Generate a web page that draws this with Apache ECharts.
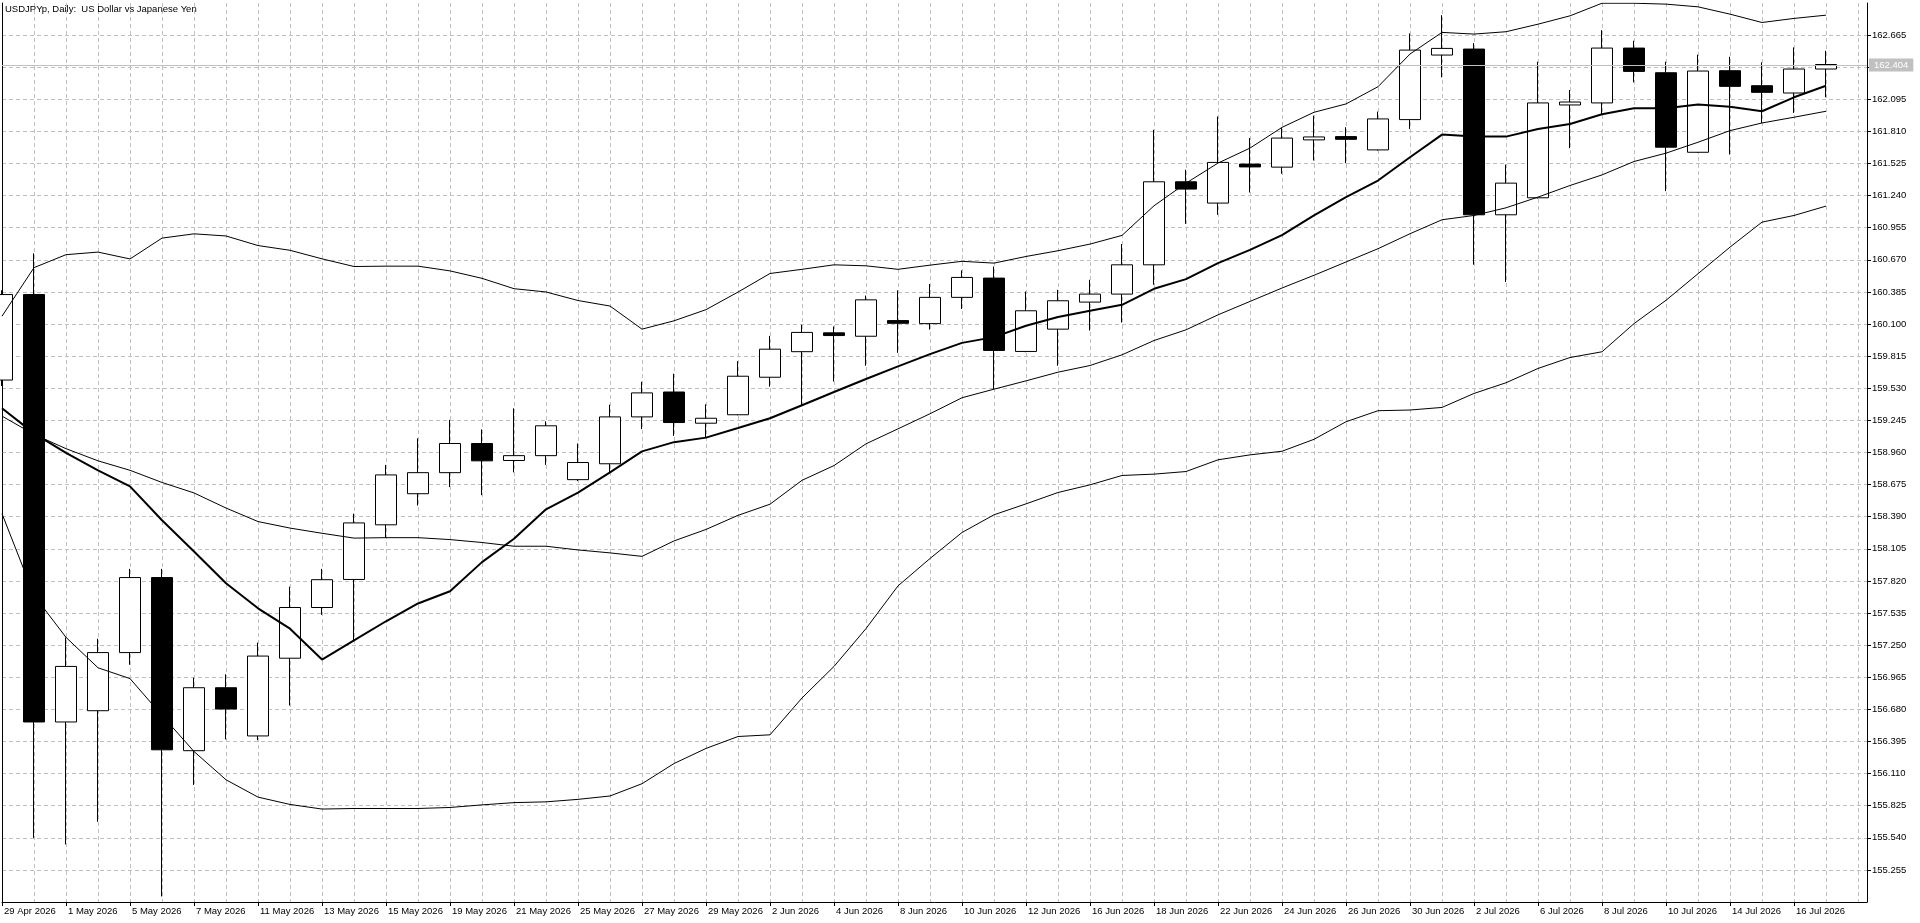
<!DOCTYPE html>
<html><head><meta charset="utf-8">
<script src="https://cdn.jsdelivr.net/npm/echarts@6/dist/echarts.min.js"></script>
<style>html,body{margin:0;padding:0;background:#fff;}#c{width:1920px;height:923px;}</style>
</head><body><div id="c"></div>
<script>
// ---- data ----
const dates = ['29 Apr 2026','30 Apr 2026','1 May 2026','4 May 2026','5 May 2026','6 May 2026','7 May 2026','8 May 2026',
 '11 May 2026','12 May 2026','13 May 2026','14 May 2026','15 May 2026','18 May 2026','19 May 2026','20 May 2026','21 May 2026','22 May 2026',
 '25 May 2026','26 May 2026','27 May 2026','28 May 2026','29 May 2026','1 Jun 2026','2 Jun 2026','3 Jun 2026','4 Jun 2026','5 Jun 2026',
 '8 Jun 2026','9 Jun 2026','10 Jun 2026','11 Jun 2026','12 Jun 2026','15 Jun 2026','16 Jun 2026','17 Jun 2026','18 Jun 2026','19 Jun 2026',
 '22 Jun 2026','23 Jun 2026','24 Jun 2026','25 Jun 2026','26 Jun 2026','29 Jun 2026','30 Jun 2026','1 Jul 2026','2 Jul 2026','3 Jul 2026',
 '6 Jul 2026','7 Jul 2026','8 Jul 2026','9 Jul 2026','10 Jul 2026','13 Jul 2026','14 Jul 2026','15 Jul 2026','16 Jul 2026','17 Jul 2026'];
const open = [159.603,160.362,156.568,156.668,157.184,157.850,156.313,156.872,156.444,157.134,
 157.584,157.833,158.318,158.594,158.781,159.040,158.889,158.932,158.719,158.860,
 159.276,159.497,159.220,159.295,159.628,159.855,160.022,159.992,160.131,160.104,
 160.337,160.508,159.857,160.055,160.295,160.366,160.626,161.363,161.174,161.520,
 161.493,161.735,161.764,161.646,161.915,162.488,162.541,161.070,161.221,162.045,
 162.063,162.550,162.331,161.625,162.349,162.216,162.151,162.364];
const high = [160.400,160.728,157.319,157.307,157.927,157.927,156.961,156.991,157.272,157.769,
 157.927,158.417,158.850,159.086,159.250,159.165,159.352,159.237,159.040,159.384,
 159.588,159.659,159.388,159.771,159.995,160.094,160.079,160.353,160.399,160.455,
 160.577,160.611,160.389,160.404,160.493,160.810,161.825,161.470,161.943,161.751,
 161.840,161.950,161.847,161.986,162.680,162.842,162.594,161.516,162.429,162.178,
 162.709,162.615,162.429,162.491,162.473,162.423,162.556,162.526];
const low = [159.550,155.539,155.481,155.682,157.076,155.019,156.009,156.413,156.406,156.714,
 157.519,157.292,158.204,158.489,158.653,158.581,158.784,158.850,158.706,158.784,
 159.168,159.108,159.093,159.290,159.544,159.379,159.590,159.730,159.845,160.051,
 160.234,159.522,159.850,159.730,160.043,160.114,160.449,160.990,161.070,161.268,
 161.434,161.552,161.528,161.640,161.832,162.290,160.627,160.474,161.215,161.661,
 161.965,162.246,161.280,161.620,161.605,161.885,161.974,162.113];
const close = [160.362,156.568,157.061,157.184,157.850,156.321,156.872,156.683,157.153,157.584,
 157.831,158.335,158.761,158.781,159.040,158.886,158.932,159.197,158.871,159.276,
 159.489,159.226,159.264,159.637,159.877,160.026,159.998,160.315,160.107,160.337,
 160.514,159.866,160.218,160.307,160.366,160.626,161.363,161.298,161.535,161.495,
 161.751,161.761,161.740,161.921,162.532,162.547,161.070,161.351,162.063,162.071,
 162.550,162.343,161.670,162.346,162.210,162.157,162.364,162.404];
const bbUpper = [160.170,160.601,160.716,160.739,160.678,160.863,160.901,160.882,160.797,160.755,
 160.679,160.611,160.614,160.614,160.572,160.506,160.414,160.385,160.309,160.260,
 160.055,160.129,160.228,160.384,160.549,160.586,160.626,160.617,160.586,160.623,
 160.657,160.641,160.700,160.751,160.810,160.887,161.150,161.351,161.529,161.662,
 161.846,161.980,162.054,162.207,162.497,162.689,162.674,162.695,162.762,162.836,
 162.948,162.948,162.940,162.916,162.851,162.777,162.813,162.842];
const bbMiddle = [159.283,159.121,158.994,158.886,158.802,158.694,158.601,158.467,158.347,158.289,
 158.243,158.200,158.204,158.204,158.187,158.161,158.128,158.128,158.095,158.069,
 158.038,158.175,158.277,158.402,158.501,158.713,158.844,159.037,159.170,159.304,
 159.446,159.522,159.596,159.673,159.732,159.827,159.954,160.049,160.182,160.301,
 160.420,160.533,160.651,160.769,160.902,161.026,161.064,161.132,161.227,161.330,
 161.424,161.543,161.617,161.714,161.817,161.885,161.936,161.989];
const bbLower = [158.417,157.692,157.319,157.049,156.953,156.626,156.306,156.055,155.901,155.836,
 155.795,155.800,155.800,155.800,155.809,155.832,155.852,155.859,155.881,155.911,
 156.020,156.199,156.333,156.439,156.454,156.781,157.061,157.397,157.776,158.019,
 158.250,158.407,158.504,158.605,158.673,158.756,158.768,158.791,158.895,158.939,
 158.971,159.077,159.233,159.331,159.337,159.360,159.484,159.579,159.706,159.803,
 159.854,160.104,160.311,160.547,160.783,161.005,161.064,161.147];
const maLine = [159.353,159.130,158.956,158.802,158.659,158.359,158.081,157.800,157.577,157.396,
 157.122,157.292,157.462,157.620,157.728,157.987,158.194,158.456,158.604,158.784,
 158.970,159.052,159.092,159.177,159.264,159.379,159.497,159.612,159.724,159.833,
 159.933,159.984,160.085,160.162,160.218,160.271,160.413,160.499,160.641,160.759,
 160.890,161.064,161.227,161.374,161.581,161.782,161.764,161.764,161.832,161.876,
 161.962,162.015,162.015,162.048,162.030,161.989,162.113,162.216];
const lastPrice = 162.404;
const yMin = 154.970, yMax = 162.950, yStep = 0.285;   // price scale ticks
const title = 'USDJPYp, Daily:  US Dollar vs Japanese Yen';

// ---- chart ----
const FONT = "'Liberation Sans', Arial, sans-serif";
const GRID = '#c0c0c0';
const xMax = 1865 / 32;           // visible bar slots incl. right shift
const labelIdx = dates.map((d, i) => i).filter(i => i % 2 === 0);
const candle = dates.map((d, i) => [i, open[i], close[i], low[i], high[i]]);
const pts = arr => arr.map((v, i) => [i, v]);
const lineSeries = (arr, w) => ({
  type: 'line', data: pts(arr), symbol: 'none', showSymbol: false, z: 3, silent: true,
  lineStyle: { color: '#000', width: w }, emphasis: { disabled: true }
});

const chart = echarts.init(document.getElementById('c'), null, { renderer: 'canvas' });
chart.setOption({
  animation: false,
  backgroundColor: '#fff',
  title: { text: title, left: 5, top: 4, padding: 0,
    textStyle: { fontFamily: FONT, fontSize: 9.5, fontWeight: 'normal', color: '#000' } },
  grid: { left: 2, right: 53, top: 3, bottom: 21 },
  xAxis: [
    { type: 'value', position: 'bottom', min: 0, max: xMax, interval: 1,
      axisLine: { show: true, onZero: false, lineStyle: { color: '#000', width: 1 } },
      axisTick: { show: false }, axisLabel: { show: false },
      splitLine: { show: true, showMinLine: false, showMaxLine: false,
        lineStyle: { color: GRID, type: [4, 3], width: 1 } } },
    { type: 'value', position: 'bottom', min: 0, max: xMax, interval: 2,
      axisLine: { show: false, onZero: false },
      axisTick: { show: true, length: 4, customValues: labelIdx, lineStyle: { color: '#000' } },
      axisLabel: { show: true, customValues: labelIdx, align: 'left', margin: 4, padding: [0, 0, 0, 2],
        fontFamily: FONT, fontSize: 9.5, color: '#000',
        formatter: v => (Number.isInteger(v) && dates[v]) ? dates[v] : '' },
      splitLine: { show: false } }
  ],
  yAxis: [
    { type: 'value', position: 'right', min: yMin, max: yMax, interval: yStep,
      axisLine: { show: true, onZero: false, lineStyle: { color: '#000' } },
      axisTick: { show: true, length: 4, lineStyle: { color: '#000' } },
      axisLabel: { margin: 5, showMinLabel: false, showMaxLabel: false,
        fontFamily: FONT, fontSize: 9.5, color: '#000', formatter: v => v.toFixed(3) },
      splitLine: { show: true, showMinLine: false, showMaxLine: false,
        lineStyle: { color: GRID, type: [4, 3], width: 1 } } },
    { type: 'value', position: 'left', min: yMin, max: yMax,
      axisLine: { show: true, onZero: false, lineStyle: { color: '#000' } },
      axisTick: { show: false }, axisLabel: { show: false }, splitLine: { show: false } }
  ],
  series: [
    { type: 'line', data: [], z: 1, silent: true,
      markLine: { silent: true, symbol: 'none', animation: false,
        lineStyle: { color: GRID, width: 1, type: 'solid' },
        label: { position: 'end', distance: 2, formatter: lastPrice.toFixed(3),
          backgroundColor: GRID, color: '#fff', padding: [2, 5, 1, 5], fontFamily: FONT, fontSize: 9.5 },
        data: [{ yAxis: lastPrice }] } },
    { type: 'candlestick', data: candle, barWidth: 22, z: 2, clip: true, silent: true,
      itemStyle: { color: '#fff', color0: '#000', borderColor: '#000', borderColor0: '#000',
        borderColorDoji: '#000', borderWidth: 1 },
      emphasis: { disabled: true } },
    lineSeries(bbUpper, 1),
    lineSeries(bbMiddle, 1),
    lineSeries(bbLower, 1),
    lineSeries(maLine, 2)
  ]
});
</script></body></html>
